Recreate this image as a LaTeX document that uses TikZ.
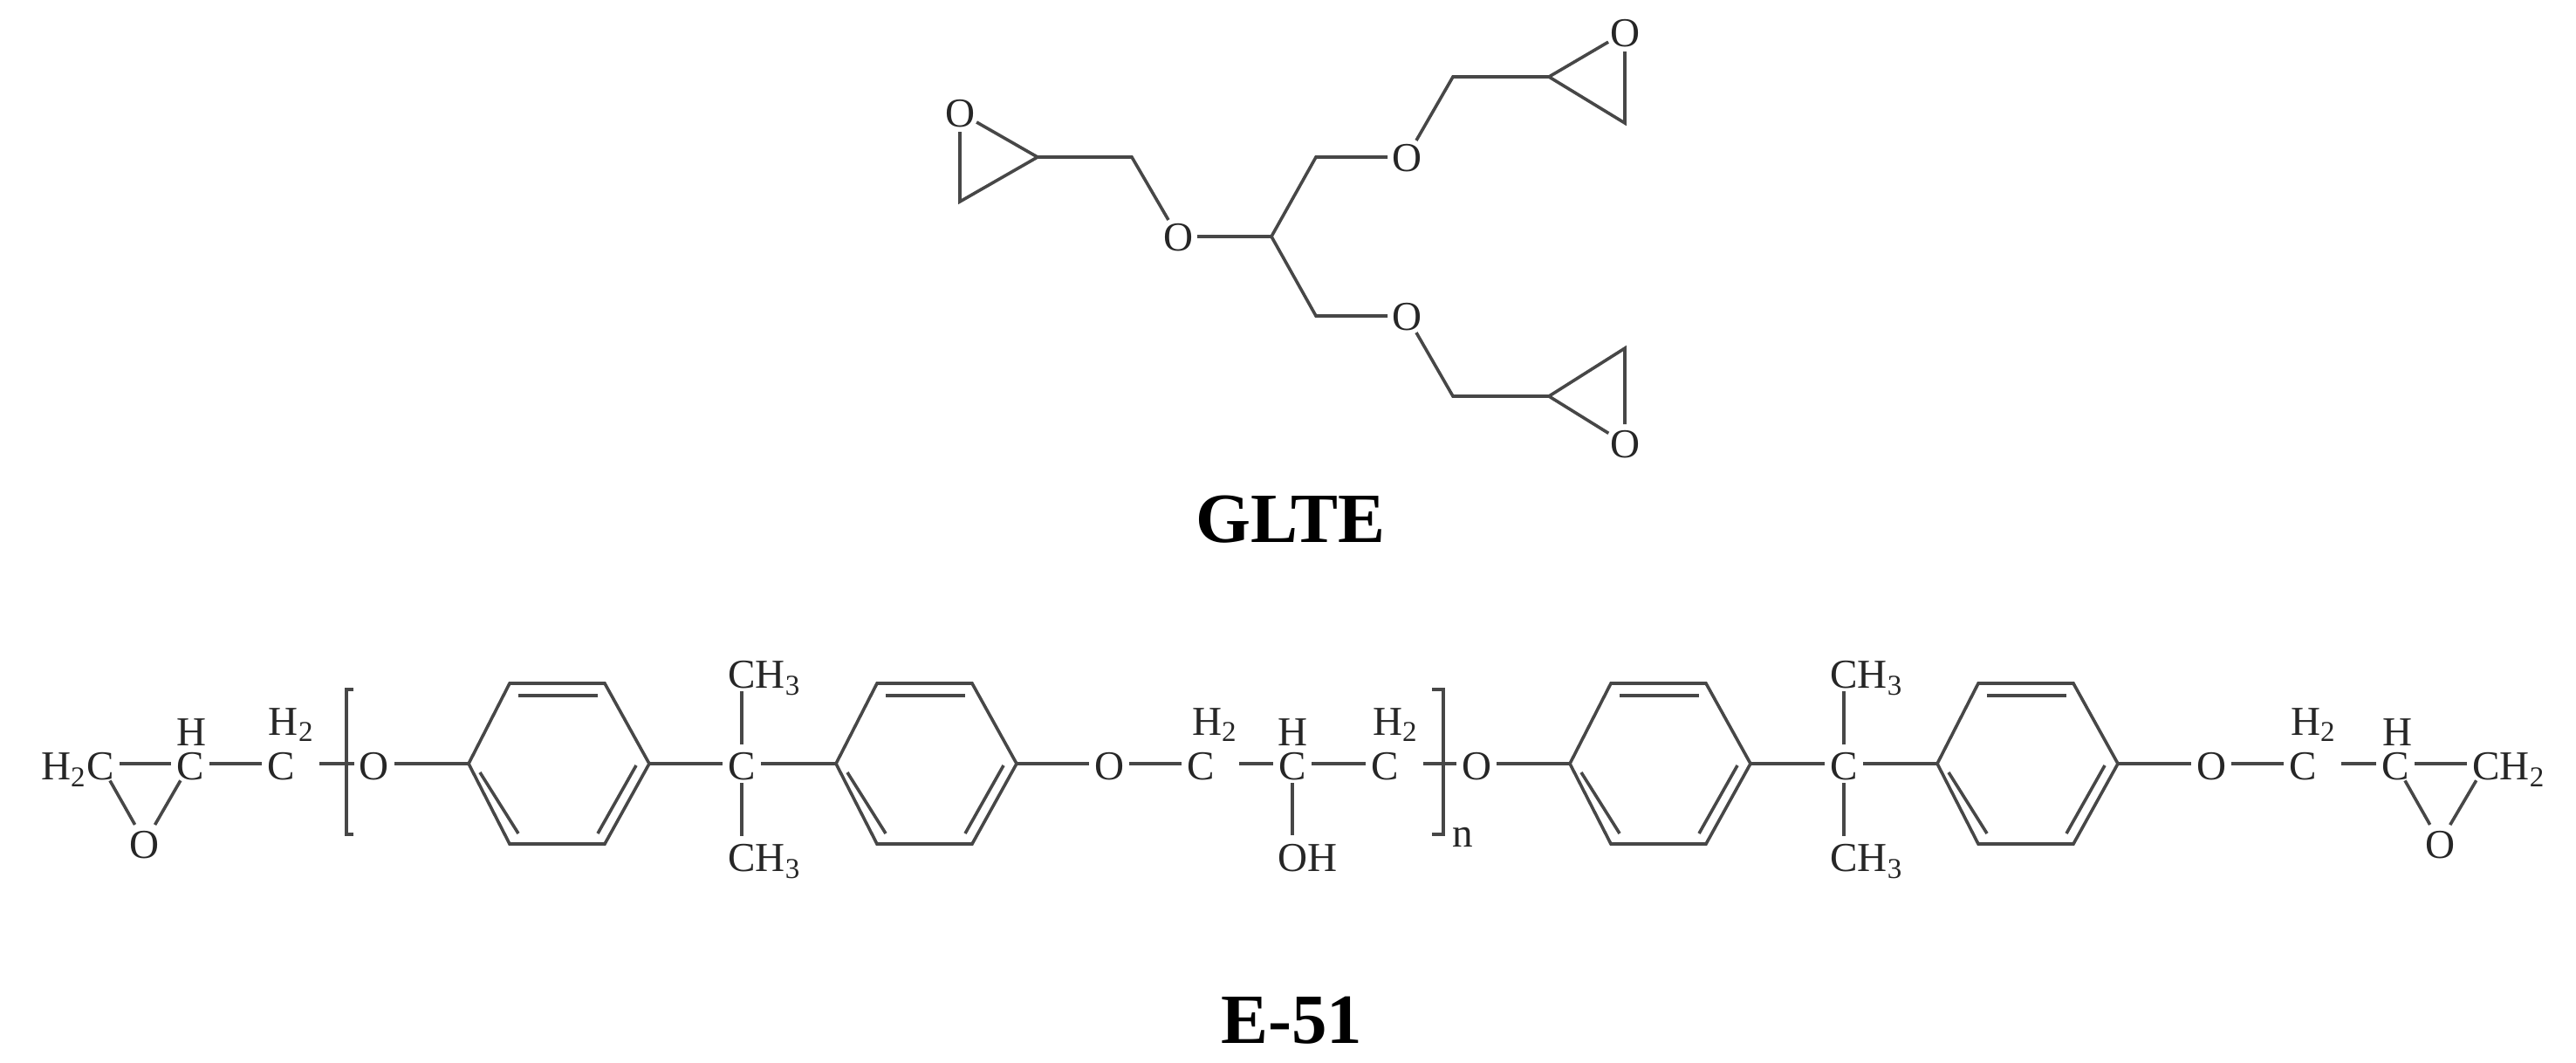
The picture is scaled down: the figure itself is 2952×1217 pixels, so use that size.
\documentclass[tikz,border=0pt]{standalone}
\usepackage{fontspec}
\setmainfont{Liberation Serif}

\tikzset{
        bond/.style={line width=0.036cm, black!72},
        atom/.style={circle, inner sep=0pt, outer sep=-0.02cm, minimum size=0.48cm, text height=0.37cm, text depth=0pt, black!85, font=\fontsize{13.4pt}{15pt}\selectfont},
        gatom/.style={atom, text height=0.32cm},
        hlab/.style={inner sep=0pt, text height=0.32cm, text depth=0pt, black!85, font=\fontsize{13.4pt}{15pt}\selectfont},
        capt/.style={inner sep=0pt, font=\fontsize{23pt}{26pt}\selectfont\bfseries},
}

\begin{document}
\begin{tikzpicture}[x=0.01cm,y=-0.01cm]

        \useasboundingbox (0,0) rectangle (2952,1217);

        \node[gatom] (gO1) at (1100,129) {O};
        \node[gatom] (gO2) at (1350,271) {O};
        \node[gatom] (gO3) at (1612,180) {O};
        \node[gatom] (gO4) at (1862,37) {O};
        \node[gatom] (gO5) at (1612,362) {O};
        \node[gatom] (gO6) at (1862,508) {O};

        \coordinate (g1) at (1100,231);
        \coordinate (g2) at (1189,180);
        \coordinate (g3) at (1297,180);
        \coordinate (g4) at (1457,271);
        \coordinate (g5) at (1508,180);
        \coordinate (g6) at (1665,88);
        \coordinate (g7) at (1775,88);
        \coordinate (g8) at (1862,141);
        \coordinate (g9) at (1508,362);
        \coordinate (g10) at (1665,454);
        \coordinate (g11) at (1775,454);
        \coordinate (g12) at (1862,399);

        \draw[bond] (gO1) -- (g1) -- (g2) -- (gO1);
        \draw[bond] (g2) -- (g3) -- (gO2) -- (g4);
        \draw[bond] (gO3) -- (g5) -- (g4) -- (g9) -- (gO5);
        \draw[bond] (gO3) -- (g6) -- (g7) -- (gO4) -- (g8) -- (g7);
        \draw[bond] (gO5) -- (g10) -- (g11) -- (gO6) -- (g12) -- (g11);

        \node[capt] (glte) at (1479,595) {GLTE};

        \foreach \rx/\rn in {537/ra,958/rb,1799/rc,2220/rd} {
                \coordinate (\rn1) at (\rx,875);
                \coordinate (\rn2) at (\rx+47,783);
                \coordinate (\rn3) at (\rx+156,783);
                \coordinate (\rn4) at (\rx+207,875);
                \coordinate (\rn5) at (\rx+156,967);
                \coordinate (\rn6) at (\rx+47,967);
                \coordinate (\rn7) at (\rx+57,797);
                \coordinate (\rn8) at (\rx+148,797);
                \coordinate (\rn9) at (\rx+13,885);
                \coordinate (\rn10) at (\rx+57,955);
                \coordinate (\rn11) at (\rx+192,877);
                \coordinate (\rn12) at (\rx+148,955);
                \draw[bond] (\rn1) -- (\rn2) -- (\rn3) -- (\rn4) -- (\rn5) -- (\rn6) -- cycle;
                \draw[bond] (\rn7) -- (\rn8);
                \draw[bond] (\rn9) -- (\rn10);
                \draw[bond] (\rn11) -- (\rn12);
        }

        \node[atom] (c1) at (115,875) {\llap{H\textsubscript{2}}C};
        \node[atom] (c2) at (218,875) {C};
        \node[atom] (c3) at (322,875) {C};
        \node[atom] (o1) at (166,965) {O};
        \node[atom] (o2) at (429,875) {O};
        \node[atom] (c4) at (850,875) {C};
        \node[atom] (me1) at (850,770) {C\rlap{H\textsubscript{3}}};
        \node[atom] (me2) at (850,980) {C\rlap{H\textsubscript{3}}};
        \node[atom] (o3) at (1271,875) {O};
        \node[atom] (c5) at (1376,875) {C};
        \node[atom] (c6) at (1481,875) {C};
        \node[atom] (c7) at (1587,875) {C};
        \node[atom] (oh) at (1481,980) {O\rlap{H}};
        \node[atom] (o4) at (1692,875) {O};
        \node[atom] (c8) at (2113,875) {C};
        \node[atom] (me3) at (2113,770) {C\rlap{H\textsubscript{3}}};
        \node[atom] (me4) at (2113,980) {C\rlap{H\textsubscript{3}}};
        \node[atom] (o5) at (2534,875) {O};
        \node[atom] (c9) at (2639,875) {C};
        \node[atom] (c10) at (2745,875) {C};
        \node[atom] (c11) at (2849,875) {C\rlap{H\textsubscript{2}}};
        \node[atom] (o6) at (2796,965) {O};

        \node[hlab] (h1) at (220,838) {H};
        \node[hlab] (h2) at (325,826) {H\rlap{\textsubscript{2}}};
        \node[hlab] (h3) at (1383,826) {H\rlap{\textsubscript{2}}};
        \node[hlab] (h4) at (1481,838) {H};
        \node[hlab] (h5) at (1590,826) {H\rlap{\textsubscript{2}}};
        \node[hlab] (h6) at (2642,826) {H\rlap{\textsubscript{2}}};
        \node[hlab] (h7) at (2747,838) {H};
        \node[atom] (nn) at (1676,952) {n};

        \draw[bond] (c1) -- (c2);
        \draw[bond] (c1) -- (o1) -- (c2);
        \draw[bond] (c2) -- (c3);
        \draw[bond, shorten <=0.22cm] (c3) -- (o2);
        \draw[bond] (o2) -- (ra1);
        \draw[bond] (ra4) -- (c4);
        \draw[bond] (c4) -- (rb1);
        \draw[bond] (c4) -- (me1);
        \draw[bond] (c4) -- (me2);
        \draw[bond] (rb4) -- (o3);
        \draw[bond] (o3) -- (c5);
        \draw[bond, shorten <=0.22cm] (c5) -- (c6);
        \draw[bond] (c6) -- (c7);
        \draw[bond] (c6) -- (oh);
        \draw[bond, shorten <=0.22cm] (c7) -- (o4);
        \draw[bond] (o4) -- (rc1);
        \draw[bond] (rc4) -- (c8);
        \draw[bond] (c8) -- (me3);
        \draw[bond] (c8) -- (me4);
        \draw[bond] (c8) -- (rd1);
        \draw[bond] (rd4) -- (o5);
        \draw[bond] (o5) -- (c9);
        \draw[bond, shorten <=0.22cm] (c9) -- (c10);
        \draw[bond] (c10) -- (c11);
        \draw[bond] (c10) -- (o6) -- (c11);

        \coordinate (bl1) at (405,790);
        \coordinate (bl2) at (397,790);
        \coordinate (bl3) at (397,956);
        \coordinate (bl4) at (405,956);
        \coordinate (br1) at (1641,790);
        \coordinate (br2) at (1654,790);
        \coordinate (br3) at (1654,956);
        \coordinate (br4) at (1641,956);
        \draw[bond] (bl1) -- (bl2) -- (bl3) -- (bl4);
        \draw[bond] (br1) -- (br2) -- (br3) -- (br4);

        \node[capt] (e51) at (1480,1169) {E-51};

\end{tikzpicture}
\end{document}
